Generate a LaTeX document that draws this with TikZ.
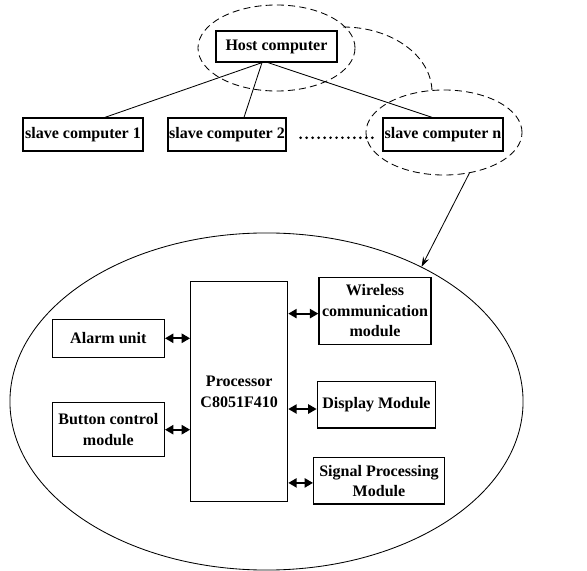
\documentclass[tikz,border=0pt]{standalone}
\usepackage{fontspec}
\setmainfont{Liberation Serif}
\usetikzlibrary{shapes.geometric,arrows.meta}

\begin{document}
\begin{tikzpicture}[x=0.025cm,y=-0.025cm,text centered,
  font=\bfseries\fontsize{11.4}{14.5}\selectfont,
  box/.style={draw,line width=0.9pt,inner sep=0pt,align=center},
  ring/.style={draw,ellipse,dash pattern=on 5pt off 3pt,line width=0.6pt,inner sep=0pt},
  link/.style={{Triangle[length=6pt,width=6.5pt]}-{Triangle[length=6pt,width=6.5pt]},line width=1.4pt}]

\useasboundingbox (0,0) rectangle (587,571);

%% upper level: host and slaves
\node (host) at (276.5,46.5) [box,minimum width=3.025cm,minimum height=0.775cm] {Host computer};
\node (s1) at (83,134.5) [box,minimum width=3.0cm,minimum height=0.825cm] {slave computer 1};
\node (s2) at (227,134.5) [box,minimum width=2.95cm,minimum height=0.825cm] {slave computer 2};
\node (sn) at (443,134.5) [box,minimum width=3.0cm,minimum height=0.825cm] {slave computer n};
\draw[line width=0.6pt] ([xshift=-0.3625cm]host.south) -- ([xshift=0.55cm]s1.north);
\draw[line width=0.6pt] ([xshift=-0.3625cm]host.south) -- ([xshift=0.425cm]s2.north);
\draw[line width=0.6pt] ([xshift=-0.2125cm]host.south) -- ([xshift=-0.275cm]sn.north);
\draw[line width=2.1pt,line cap=round,dash pattern=on 0pt off 4.25pt]
  ([xshift=0.35cm,yshift=-2.3pt]s2.east) -- ([xshift=-0.15cm,yshift=-2.3pt]sn.west);

%% dashed groups
\node (top) at (276.5,48) [ring,minimum width=3.925cm,minimum height=2.15cm] {};
\node (grp) at (444,132.5) [ring,minimum width=3.9cm,minimum height=2.125cm] {};
\draw[dash pattern=on 5pt off 3pt,line width=0.6pt] (343,27) .. controls (392,27) and (432,56) .. (432,92);

%% lower level: one slave node
\node (board) at (266.5,401.5) [draw,ellipse,line width=0.6pt,inner sep=0pt,minimum width=12.825cm,minimum height=8.425cm] {};
\draw[line width=0.6pt,-{Stealth[length=7pt,width=4.5pt]}] (grp.-58) -- (board.41);

\node (proc) at (239.2,391.7) [box,line width=0.8pt,minimum width=2.425cm,minimum height=5.5cm] {Processor\\C8051F410};
\node (alarm) at (108.3,338.3) [box,minimum width=2.8cm,minimum height=0.95cm] {Alarm unit};
\node (button) at (108.3,429.7) [box,minimum width=2.8cm,minimum height=1.35cm] {Button control\\module};
\node (wireless) at (375,310.8) [box,minimum width=2.8cm,minimum height=1.675cm] {Wireless\\communication\\module};
\node (display) at (376.5,404.8) [box,minimum width=2.96cm,minimum height=1.16cm] {Display Module};
\node (signal) at (379,480.8) [box,minimum width=3.265cm,minimum height=1.16cm] {Signal Processing\\Module};

\draw[link] (alarm.east) -- (alarm.east -| proc.west);
\draw[link] (button.east) -- (button.east -| proc.west);
\draw[link] ([yshift=-2pt]wireless.west) -- ([yshift=-2pt]wireless.west -| proc.east);
\draw[link] ([yshift=-3pt]display.west) -- ([yshift=-3pt]display.west -| proc.east);
\draw[link] ([yshift=-1.5pt]signal.west) -- ([yshift=-1.5pt]signal.west -| proc.east);

\end{tikzpicture}
\end{document}
